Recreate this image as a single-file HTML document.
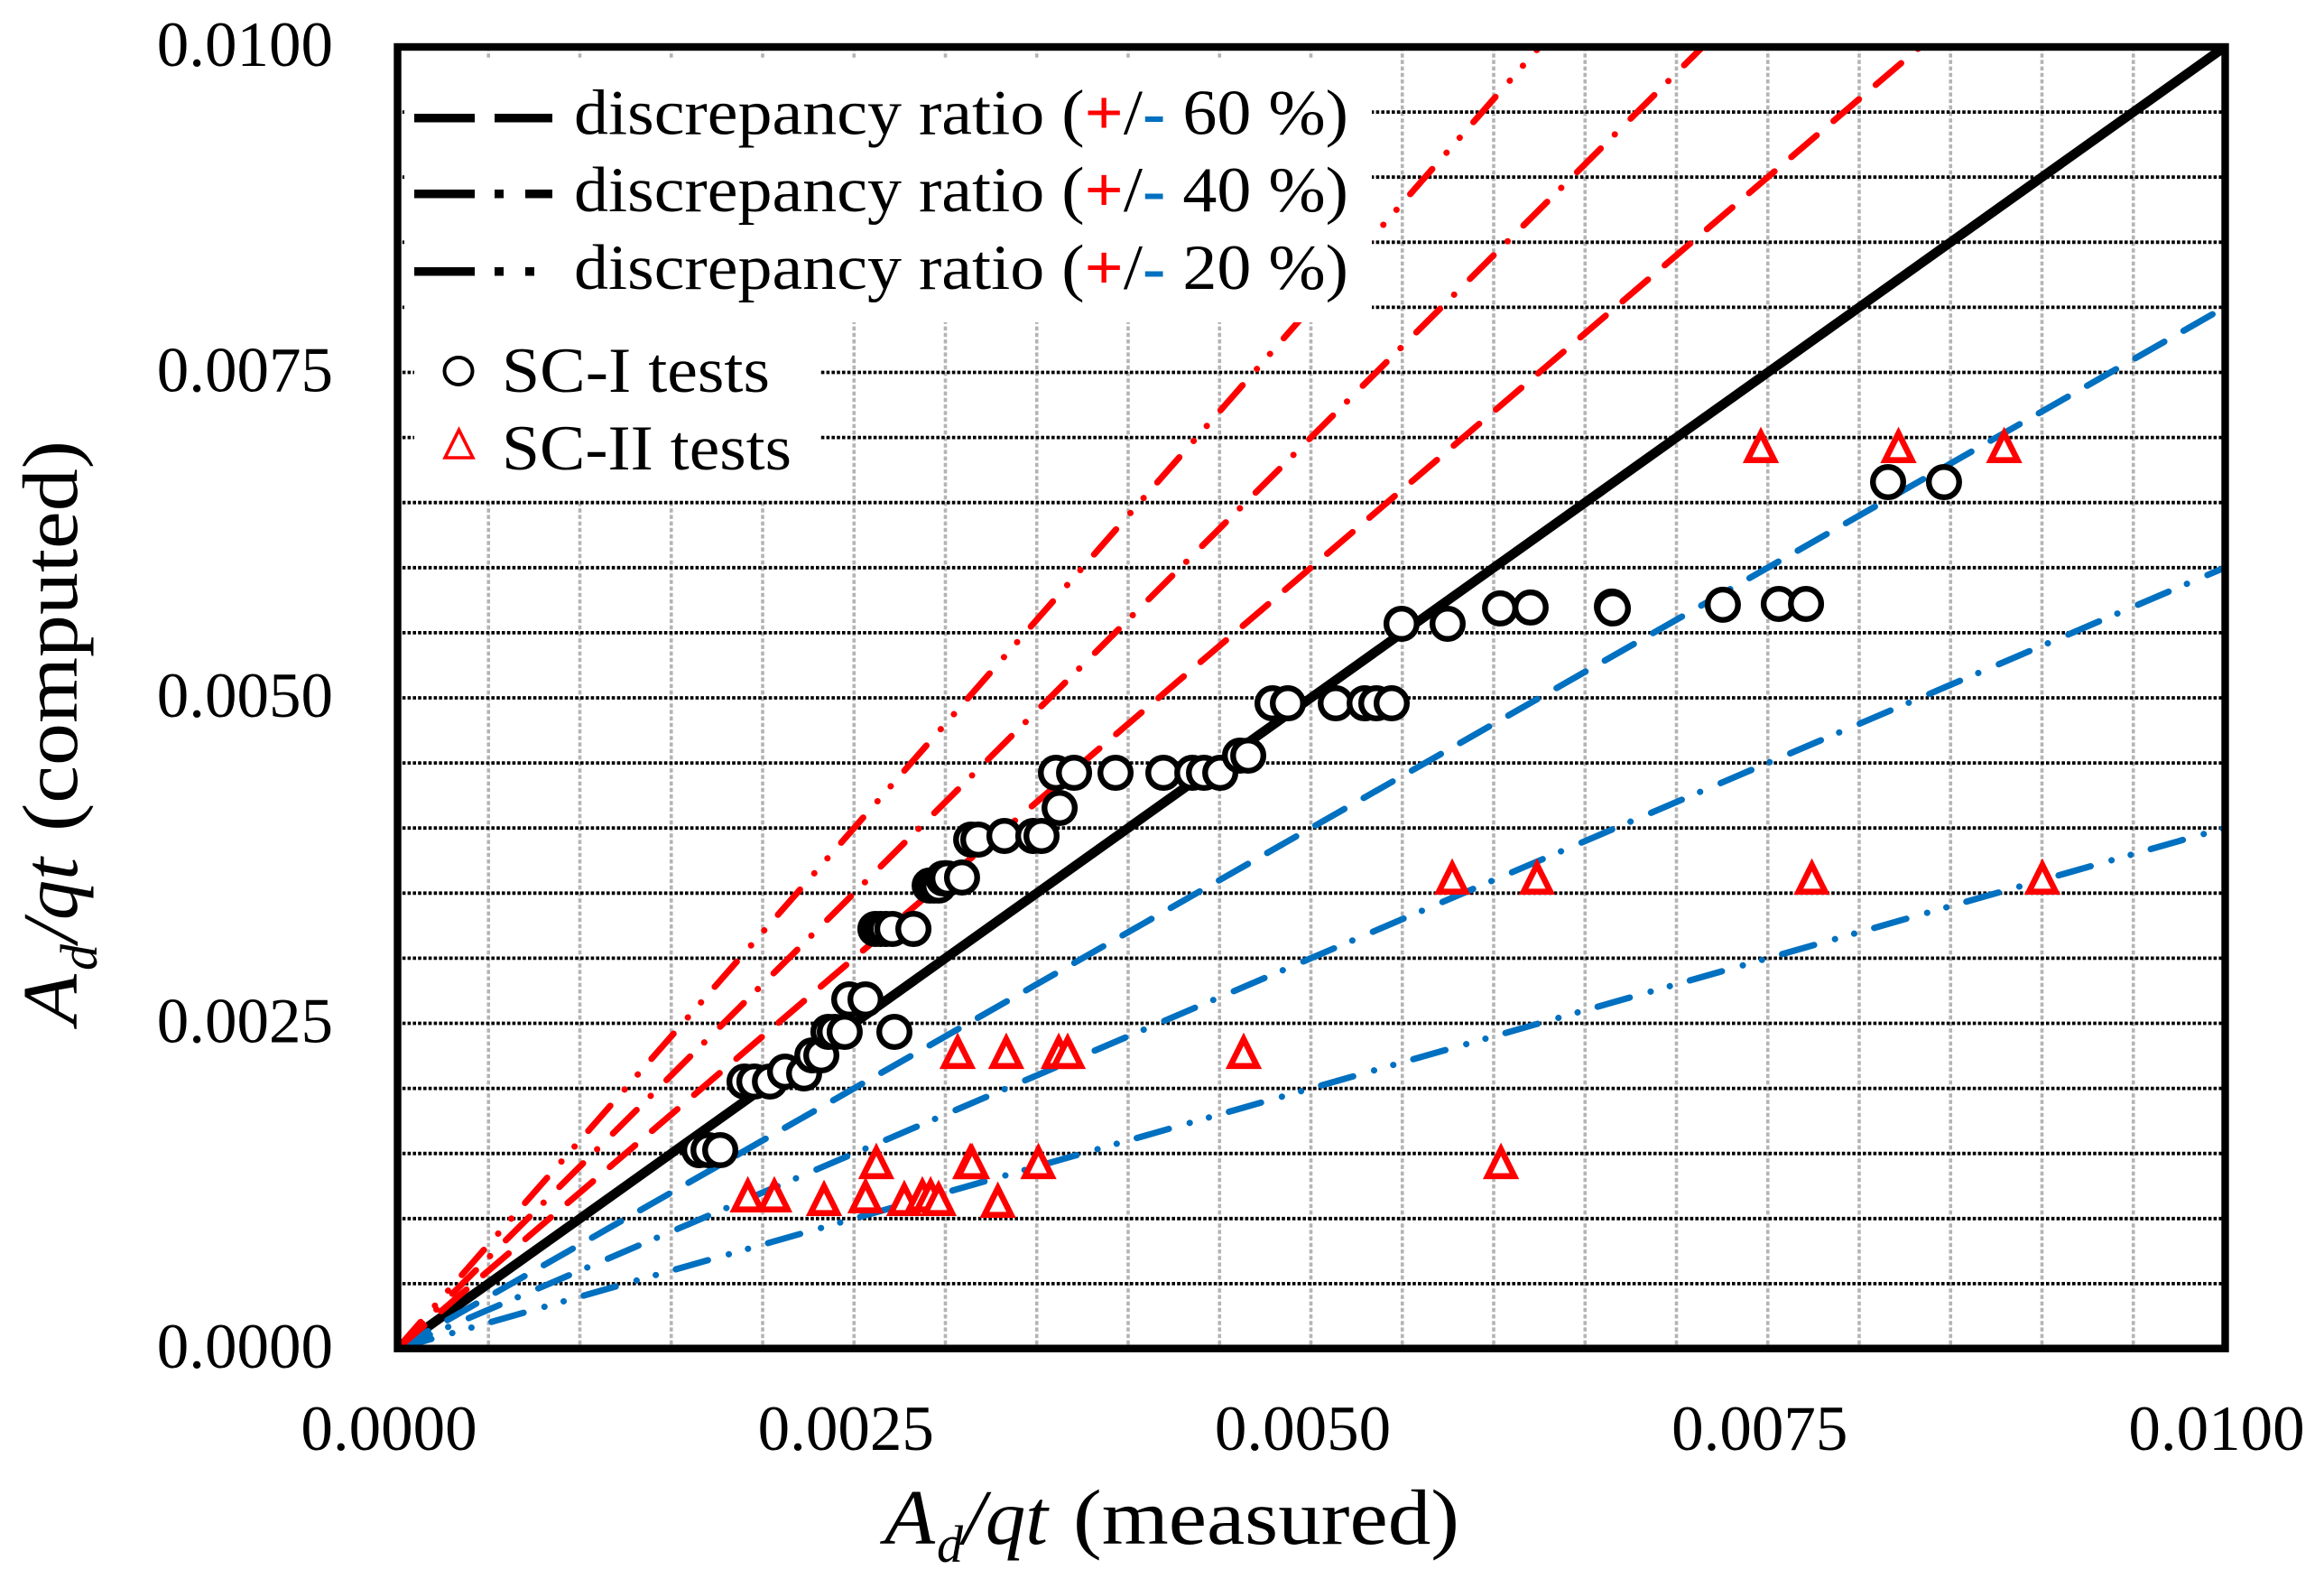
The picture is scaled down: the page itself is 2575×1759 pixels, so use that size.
<!DOCTYPE html>
<html lang="en">
<head>
<meta charset="utf-8">
<title>Computed vs measured Ad/qt</title>
<style>
html,body{margin:0;padding:0;background:#fff}
svg{display:block}
text{font-family:"Liberation Serif",serif;fill:#000}
</style>
</head>
<body>
<svg id="chart" xmlns="http://www.w3.org/2000/svg" width="2575" height="1759" viewBox="0 0 2575 1759">
  <defs>
    <clipPath id="plot-clip"><rect x="440" y="52" width="2025" height="1442"/></clipPath>
  </defs>
  <rect x="0" y="0" width="2575" height="1759" fill="#fff"/>
  <g id="grid"></g>
  <g id="lines" clip-path="url(#plot-clip)"></g>
  <rect x="448" y="66" width="1072" height="291" fill="#fff"/>
  <rect x="459" y="357" width="449" height="196" fill="#fff"/>
  <g id="markers"></g>
  <rect x="440.5" y="52" width="2025" height="1441.7" fill="none" stroke="#000" stroke-width="8.4"/>
  <g id="ticks"></g>

  <g>
    <g>
      <rect x="459" y="126" width="67" height="9.5" fill="#000"/>
      <rect x="548" y="126" width="64" height="9.5" fill="#000"/>
      <text x="636" y="148.5" font-size="71" textLength="858" lengthAdjust="spacingAndGlyphs">discrepancy ratio (<tspan font-weight="bold" style="fill:#ff0000">+</tspan>/<tspan font-weight="bold" style="fill:#0070c0">-</tspan> 60 %)</text>
    </g>
    <g>
      <rect x="459" y="210" width="67" height="9.5" fill="#000"/>
      <rect x="548" y="210" width="10" height="9.5" fill="#000"/>
      <rect x="582" y="210" width="30" height="9.5" fill="#000"/>
      <text x="636" y="234" font-size="71" textLength="858" lengthAdjust="spacingAndGlyphs">discrepancy ratio (<tspan font-weight="bold" style="fill:#ff0000">+</tspan>/<tspan font-weight="bold" style="fill:#0070c0">-</tspan> 40 %)</text>
    </g>
    <g>
      <rect x="459" y="296" width="67" height="9.5" fill="#000"/>
      <rect x="548" y="296" width="10" height="9.5" fill="#000"/>
      <rect x="582" y="296" width="10" height="9.5" fill="#000"/>
      <text x="636" y="320" font-size="71" textLength="858" lengthAdjust="spacingAndGlyphs">discrepancy ratio (<tspan font-weight="bold" style="fill:#ff0000">+</tspan>/<tspan font-weight="bold" style="fill:#0070c0">-</tspan> 20 %)</text>
    </g>
    <g>
      <ellipse cx="508" cy="411" rx="15.5" ry="15" fill="#fff" stroke="#000" stroke-width="4"/>
      <text x="556" y="434" font-size="71" textLength="297" lengthAdjust="spacingAndGlyphs">SC-I tests</text>
    </g>
    <g>
      <polygon points="508.5,476.2 523.9,507 493.1,507" fill="#fff" stroke="#ff0000" stroke-width="3.6"/>
      <text x="556" y="520" font-size="71" textLength="321" lengthAdjust="spacingAndGlyphs">SC-II tests</text>
    </g>
  </g>

  <g>
    <text x="980" y="1710" font-size="87" font-style="italic" textLength="56" lengthAdjust="spacingAndGlyphs">A</text>
    <text x="1038" y="1730" font-size="58" font-style="italic">d</text>
    <text x="1067" y="1710" font-size="87" font-style="italic" textLength="94" lengthAdjust="spacingAndGlyphs">/qt</text>
    <text x="1189" y="1710" font-size="87" textLength="428" lengthAdjust="spacingAndGlyphs">(measured)</text>
  </g>
  <g transform="translate(85,1135) rotate(-90)">
    <text x="0" y="0" font-size="87" font-style="italic" textLength="56" lengthAdjust="spacingAndGlyphs">A</text>
    <text x="60" y="22" font-size="58" font-style="italic">d</text>
    <text x="91" y="0" font-size="87" font-style="italic" textLength="94" lengthAdjust="spacingAndGlyphs">/qt</text>
    <text x="214" y="0" font-size="87" textLength="433" lengthAdjust="spacingAndGlyphs">(computed)</text>
  </g>
</svg>
<script>
const xTickValues = [0, 0.0025, 0.005, 0.0075, 0.01];
const yTickValues = [0, 0.0025, 0.005, 0.0075, 0.01];
const xTickLabels = ["0.0000", "0.0025", "0.0050", "0.0075", "0.0100"];
const yTickLabels = ["0.0000", "0.0025", "0.0050", "0.0075", "0.0100"];
const gridStep = 0.0005;
const parityRatio = [1];
const lowerRatios = [0.8, 0.6, 0.4];
const upperRatios = [1.2, 1.4, 1.6];
const sc1X = [0.001654,0.001704,0.001768,0.001901,0.001955,0.002040,0.002123,0.002227,0.002272,0.002321,0.002360,0.002395,0.002449,0.002474,0.002563,0.002721,0.002617,0.002645,0.002675,0.002710,0.002825,0.002914,0.002938,0.002963,0.002988,0.003012,0.003091,0.003141,0.003180,0.003323,0.003481,0.003526,0.003625,0.003605,0.003704,0.003931,0.004193,0.004351,0.004415,0.004504,0.004612,0.004657,0.004790,0.004874,0.005136,0.005294,0.005358,0.005442,0.005496,0.005748,0.006035,0.006202,0.006647,0.006652,0.007254,0.007560,0.007709,0.008158,0.008464];
const sc1Y = [0.001526,0.001526,0.001526,0.002053,0.002053,0.002053,0.002129,0.002115,0.002254,0.002254,0.002434,0.002434,0.002434,0.002684,0.002684,0.002434,0.003225,0.003225,0.003225,0.003225,0.003225,0.003558,0.003558,0.003558,0.003613,0.003613,0.003620,0.003911,0.003911,0.003939,0.003939,0.003939,0.004154,0.004424,0.004424,0.004424,0.004424,0.004424,0.004424,0.004424,0.004556,0.004556,0.004958,0.004958,0.004958,0.004958,0.004958,0.004958,0.005569,0.005569,0.005687,0.005694,0.005701,0.005687,0.005715,0.005721,0.005721,0.006657,0.006657];
const sc2X = [0.007462,0.008215,0.008793,0.005773,0.006237,0.007741,0.009002,0.003067,0.003333,0.003620,0.003669,0.004632,0.002622,0.003136,0.003146,0.003509,0.006040,0.001919,0.002064,0.002336,0.002563,0.002775,0.002874,0.002919,0.002963,0.003287];
const sc2Y = [0.006942,0.006942,0.006942,0.003627,0.003627,0.003627,0.003627,0.002288,0.002288,0.002288,0.002288,0.002288,0.001442,0.001442,0.001442,0.001442,0.001442,0.001186,0.001186,0.001158,0.001179,0.001158,0.001186,0.001186,0.001158,0.001144];

const AXIS_MAX = 0.01;
const PLOT_LEFT = 440, PLOT_RIGHT = 2465, PLOT_TOP = 52, PLOT_BOTTOM = 1494;
const NS = "http://www.w3.org/2000/svg";
function xScale(v) { return PLOT_LEFT + (v / AXIS_MAX) * (PLOT_RIGHT - PLOT_LEFT); }
function yScale(v) { return PLOT_BOTTOM - (v / AXIS_MAX) * (PLOT_BOTTOM - PLOT_TOP); }
function make(tag, parent, attrs) {
  const el = document.createElementNS(NS, tag);
  for (const k in attrs) el.setAttribute(k, attrs[k]);
  parent.appendChild(el);
  return el;
}
const gridGroup = document.getElementById("grid");
const linesGroup = document.getElementById("lines");
const markersGroup = document.getElementById("markers");
const ticksGroup = document.getElementById("ticks");

const gridCount = Math.round(AXIS_MAX / gridStep);
for (let i = 1; i < gridCount; i++) {
  const v = i * gridStep;
  const vLine = make("line", gridGroup, { x1: xScale(v), x2: xScale(v), y1: PLOT_TOP, y2: PLOT_BOTTOM, stroke: "#b4b4b4", "stroke-width": 3.6, "stroke-dasharray": "4.5 2.7" });
  
  
}
for (let i = 1; i < gridCount; i++) {
  const v = i * gridStep;
  const hLine = make("line", gridGroup, { x1: PLOT_LEFT, x2: PLOT_RIGHT, y1: yScale(v), y2: yScale(v), stroke: "#000", "stroke-width": 3.8, "stroke-dasharray": "3.6 2.2" });
  
  
}

function drawRatioLine(ratio, color, width, dash) {
  const endX = Math.min(AXIS_MAX, AXIS_MAX / ratio);
  const attrs = { x1: xScale(0), y1: yScale(0), x2: xScale(endX), y2: yScale(endX * ratio), stroke: color, "stroke-width": width, "stroke-linecap": dash ? "round" : "butt" };
  if (dash) {
    attrs["stroke-dasharray"] = dash;
    attrs["stroke-dashoffset"] = -2.5;
  }
  return make("line", linesGroup, attrs);
}
function dashForRatio(ratio) {
  const offset = Math.abs(ratio - 1);
  if (offset < 0.3) return "37 24.5";
  if (offset < 0.5) return "37 22 0.1 24.7";
  return "37 24 0.1 22 0.1 23";
}
parityRatio.forEach(function (r) {
  const parity = drawRatioLine(r, "#000", 10.5, null);
  
  
});
lowerRatios.forEach(function (r) {
  const lower = drawRatioLine(r, "#0070c0", 7, dashForRatio(r));
  
  
});
upperRatios.forEach(function (r) {
  const upper = drawRatioLine(r, "#ff0000", 7, dashForRatio(r));
  
  
});

sc1X.forEach(function (xv, i) {
  const circle = make("circle", markersGroup, { cx: xScale(xv), cy: yScale(sc1Y[i]), r: 16.8, fill: "#fff", stroke: "#000", "stroke-width": 6.4 });
  
  
});
sc2X.forEach(function (xv, i) {
  const cx = xScale(xv), cy = yScale(sc2Y[i]);
  const pts = cx + "," + (cy - 13) + " " + (cx + 14.8) + "," + (cy + 16.7) + " " + (cx - 14.8) + "," + (cy + 16.7);
  const tri = make("polygon", markersGroup, { points: pts, fill: "#fff", stroke: "#ff0000", "stroke-width": 6.6 });
  
  
});

yTickValues.forEach(function (v, i) {
  const yLabel = make("text", ticksGroup, { x: 369, y: yScale(v) + 21, "font-size": 71, "text-anchor": "end" });
  yLabel.textContent = yTickLabels[i];
  
  
});
xTickValues.forEach(function (v, i) {
  const xLabel = make("text", ticksGroup, { x: xScale(v) - 9, y: 1606, "font-size": 71, "text-anchor": "middle" });
  xLabel.textContent = xTickLabels[i];
  
  
});
</script>
</body>
</html>
